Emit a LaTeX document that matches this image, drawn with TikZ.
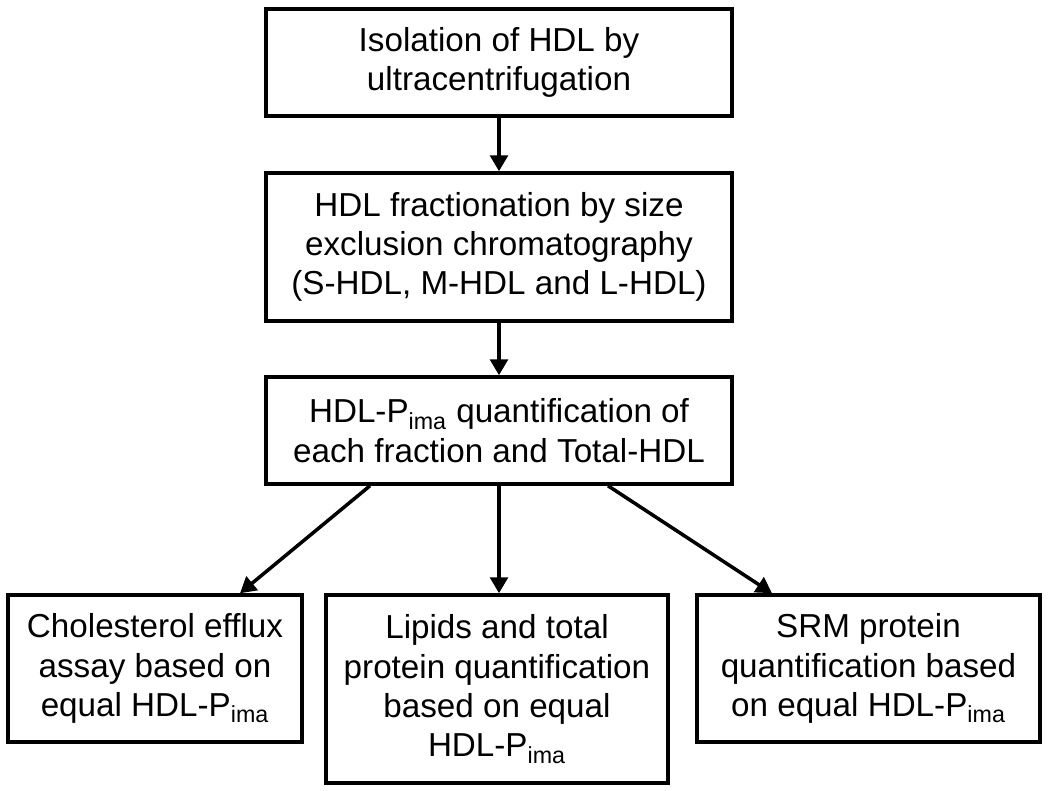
\documentclass[tikz,border=0pt]{standalone}
\usepackage{fontspec}
\setmainfont{Liberation Sans}
\usetikzlibrary{arrows.meta}

\begin{document}
\begin{tikzpicture}[box/.style={draw, line width=2pt, align=center, inner sep=0pt, font=\fontsize{18.9}{22.4}\selectfont},
                    link/.style={line width=2pt, -{Triangle[width=10pt, length=9pt]}}]

                    \useasboundingbox (0,0) rectangle (21,-15.82);

                    \node[box, minimum width=9.32cm, minimum height=2.14cm] (isol) at (9.98,-1.25) {Isolation of HDL by\\ultracentrifugation};
                    \node[box, minimum width=9.32cm, minimum height=2.96cm] (frac) at (9.98,-4.94) {HDL fractionation by size\\exclusion chromatography\\(S-HDL, M-HDL and L-HDL)};
                    \node[box, minimum width=9.32cm, minimum height=2.14cm] (quant) at (9.98,-8.61) {HDL-P\textsubscript{ima} quantification of\\each fraction and Total-HDL};
                    \node[box, minimum width=5.88cm, minimum height=2.94cm] (efflux) at (3.10,-13.37) {Cholesterol efflux\\assay based on\\equal HDL-P\textsubscript{ima}};
                    \node[box, minimum width=6.84cm, minimum height=3.76cm] (lipid) at (9.94,-13.78) {Lipids and total\\protein quantification\\based on equal\\HDL-P\textsubscript{ima}};
                    \node[box, minimum width=6.86cm, minimum height=2.94cm] (srm) at (17.37,-13.37) {SRM protein\\quantification based\\on equal HDL-P\textsubscript{ima}};

                    \draw[link] (isol) -- (frac);
                    \draw[link] (frac) -- (quant);
                    \draw[link] ([xshift=-2.58cm]quant.south) -- ([xshift=1.7cm]efflux.north);
                    \draw[link] (quant.south) -- (quant.south |- lipid.north);
                    \draw[link] ([xshift=2.18cm]quant.south) -- ([xshift=-1.93cm]srm.north);

                \end{tikzpicture}
\end{document}
